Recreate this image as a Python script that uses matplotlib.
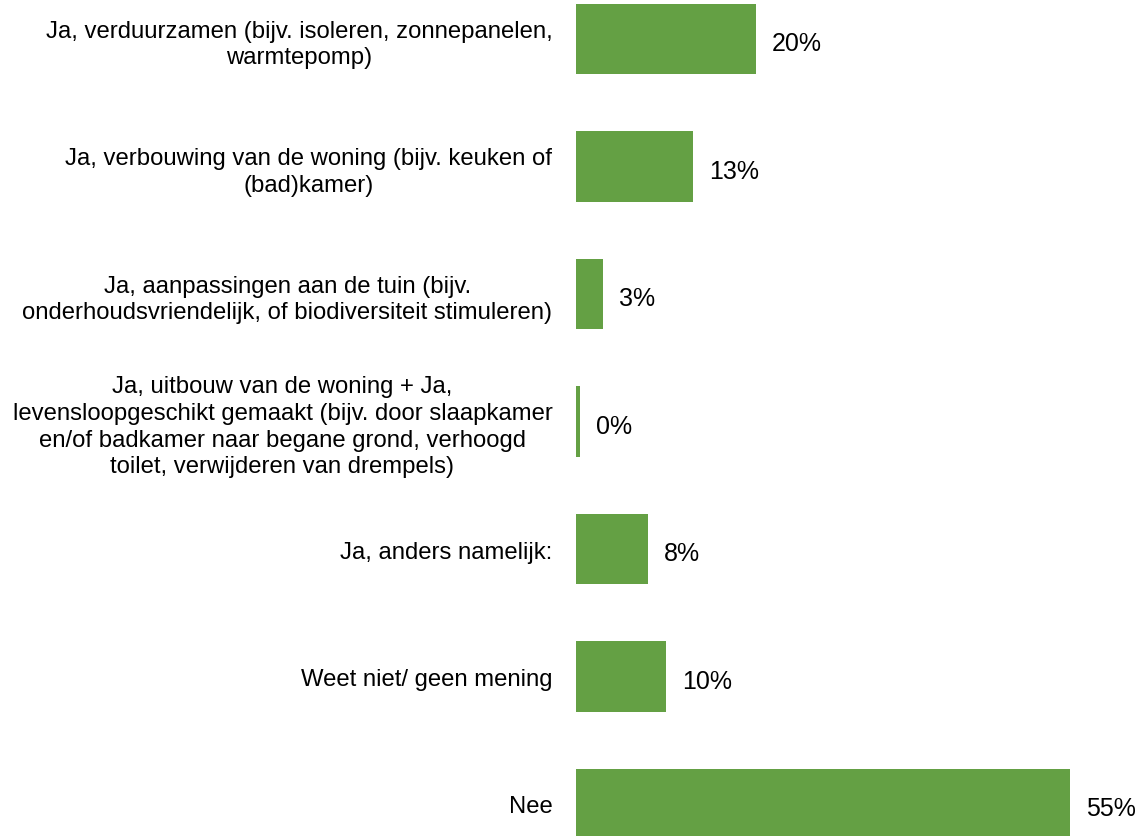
import matplotlib
matplotlib.use("Agg")
import matplotlib.pyplot as plt
import numpy as np

plt.rcParams['font.family'] = ['Liberation Sans', 'DejaVu Sans']

# antwoorden en percentages
categories = [
    'Ja, verduurzamen (bijv. isoleren, zonnepanelen,\nwarmtepomp)',
    'Ja, verbouwing van de woning (bijv. keuken of\n(bad)kamer)',
    'Ja, aanpassingen aan de tuin (bijv.\nonderhoudsvriendelijk, of biodiversiteit stimuleren)',
    'Ja, uitbouw van de woning + Ja,\nlevensloopgeschikt gemaakt (bijv. door slaapkamer\n'
    'en/of badkamer naar begane grond, verhoogd\ntoilet, verwijderen van drempels)',
    'Ja, anders namelijk:',
    'Weet niet/ geen mening',
    'Nee',
]
values = [20, 13, 3, 0.4, 8, 10, 55]

fig = plt.figure(figsize=(11.39, 8.37), dpi=100)
ax = fig.add_axes([576 / 1139, 0, 539 / 1139, 1])

ypos = np.arange(len(categories))
ax.barh(ypos, values, height=0.55, color='#64A044')

# percentage naast elke balk, iets onder het midden
for y, v in zip(ypos, values):
    ax.text(v + 1.8, y + 0.035, f'{v:.0f}%', va='center', ha='left', fontsize=18)

ax.set_xlim(0, 60)
ax.set_ylim(6.251, -0.314)
ax.set_yticks(ypos)
ax.set_yticklabels(categories, fontsize=17.2, multialignment='center', linespacing=1.27)
ax.tick_params(axis='y', length=0, pad=17)
ax.set_xticks([])
for s in ax.spines.values():
    s.set_visible(False)

fig.savefig('out.png', dpi=100)
